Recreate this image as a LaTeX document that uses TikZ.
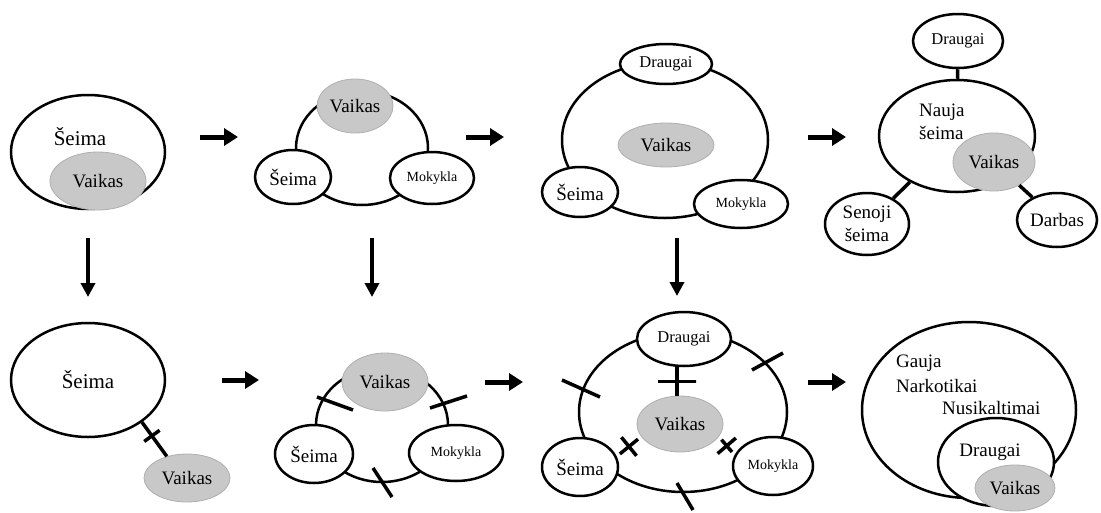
\documentclass[tikz,border=0pt]{standalone}
\usepackage{fontspec}
\setmainfont{Liberation Serif}
\usetikzlibrary{arrows.meta,shapes.geometric}
\definecolor{kidfill}{RGB}{200,200,200}
\definecolor{kidedge}{RGB}{175,175,175}
\begin{document}
\begin{tikzpicture}[x=1pt,y=-1pt,
  ell/.style={ellipse, draw, line width=2.5pt, fill=white, inner sep=0pt},
  kid/.style={ellipse, draw=kidedge, line width=0.8pt, fill=kidfill, inner sep=0pt},
  ring/.style={line width=2.5pt},
  bigarrow/.style={line width=5pt, -{Triangle[width=17pt,length=14pt]}},
  downarrow/.style={line width=3.5pt, -{Triangle[width=14pt,length=14pt]}},
  link/.style={line width=3.5pt},
  tick/.style={line width=3.5pt},
  crossmark/.style={sloped, draw, line width=3.5pt, inner sep=0pt, minimum width=0pt, minimum height=#1},
  txt/.style={font=\fontsize{19}{23}\selectfont},
  bigtxt/.style={font=\fontsize{21}{25}\selectfont},
  mid/.style={font=\fontsize{16.5}{20}\selectfont},
  small/.style={font=\fontsize{14}{17}\selectfont},
]
\useasboundingbox (0,0) rectangle (1101,512);

% ---------- Panel 1 ----------
\node[ell, minimum width=154, minimum height=114] (e1) at (88,152) {};
\node[bigtxt] (t1) at (80,137) {Šeima};
\node[kid, txt, minimum width=96, minimum height=58] (v1) at (98,181) {Vaikas};

% ---------- Panel 2 ----------
\draw[ring] (362,148) ellipse [x radius=66, y radius=57];
\node[kid, txt, minimum width=76, minimum height=54] (v2) at (355,106) {Vaikas};
\node[ell, txt, minimum width=76, minimum height=54] (s2) at (293,177) {Šeima};
\node[ell, small, minimum width=84, minimum height=52] (m2) at (432,178) {Mokykla};

% ---------- Panel 3 ----------
\draw[ring] (665,140) ellipse [x radius=103, y radius=78];
\node[ell, mid, minimum width=92, minimum height=40] (d3) at (666,64) {Draugai};
\node[kid, txt, minimum width=96, minimum height=44] (v3) at (666,145) {Vaikas};
\node[ell, txt, minimum width=76, minimum height=50] (s3) at (580,192) {Šeima};
\node[ell, small, minimum width=94, minimum height=48] (m3) at (741,204) {Mokykla};

% ---------- Panel 4 ----------
\node[ell, mid, minimum width=90, minimum height=54] (d4) at (958,41) {Draugai};
\node[ell, minimum width=156, minimum height=112] (n4) at (957,136) {};
\node[txt, align=left, anchor=north west, inner sep=0pt] (t4) at (919,104) {Nauja\\šeima};
\node[kid, txt, minimum width=82, minimum height=58] (v4) at (994,162) {Vaikas};
\node[ell, txt, align=center, minimum width=84, minimum height=62] (s4) at (867,224) {Senoji\\šeima};
\node[ell, txt, minimum width=80, minimum height=54] (b4) at (1057,220) {Darbas};
\draw[link] (d4) -- (n4);
\draw[link] (s4) -- (n4);
\draw[link] (v4) -- (b4);

% ---------- Panel 5 ----------
\node[ell, bigtxt, minimum width=154, minimum height=114] (e5) at (88,380) {Šeima};
\node[kid, txt, minimum width=86, minimum height=48] (v5) at (187,478) {Vaikas};
\draw[link] (e5.-38) -- node[crossmark=19pt, pos=0.4]{} (v5.133);

% ---------- Panel 6 ----------
\draw[ring] (382,425) ellipse [x radius=66, y radius=57];
\node[kid, txt, minimum width=86, minimum height=58] (v6) at (385,382) {Vaikas};
\node[ell, txt, minimum width=78, minimum height=58] (s6) at (314,454) {Šeima};
\node[ell, small, minimum width=94, minimum height=56] (m6) at (456,453) {Mokykla};
\draw[tick] (317,397) -- (353,410);
\draw[tick] (430,408) -- (467,396);
\draw[tick] (373,468) -- (392,497);

% ---------- Panel 7 ----------
\draw[ring] (683,412) ellipse [x radius=104, y radius=80];
\node[ell, mid, minimum width=94, minimum height=54] (d7) at (684,339) {Draugai};
\node[kid, txt, minimum width=86, minimum height=56] (v7) at (680,424) {Vaikas};
\node[ell, txt, minimum width=76, minimum height=58] (s7) at (580,467) {Šeima};
\node[ell, small, minimum width=80, minimum height=58] (m7) at (773,466) {Mokykla};
\draw[link] (v7.north -| 677,0) -- node[crossmark=38pt]{} (d7.south -| 677,0);
\draw[link, shorten <=4pt, shorten >=4pt] (v7.198) -- node[crossmark=24pt]{} (s7.16);
\draw[link, shorten <=4pt, shorten >=4pt] (v7.342) -- node[crossmark=24pt]{} (m7.164);
\draw[tick] (562,380) -- (600,397);
\draw[tick] (752,370) -- (783,353);
\draw[tick] (677,483) -- (693,510);

% ---------- Panel 8 ----------
\node[ell, minimum width=214, minimum height=176] (g8) at (969,410) {};
\node[txt, anchor=west, inner sep=0pt] (ga) at (896,363) {Gauja};
\node[txt, anchor=west, inner sep=0pt] (na) at (896,386) {Narkotikai};
\node[txt, anchor=west, inner sep=0pt] (nu) at (942,408) {Nusikaltimai};
\node[ell, minimum width=116, minimum height=88] (d8) at (996,462) {};
\node[txt] (dt8) at (990,452) {Draugai};
\node[kid, txt, minimum width=80, minimum height=46] (v8) at (1015,488) {Vaikas};

% ---------- Arrows ----------
\coordinate (a1s) at (200,137); \coordinate (a1e) at (238,137);
\coordinate (a2s) at (466,137); \coordinate (a2e) at (504,137);
\coordinate (a3s) at (808,137); \coordinate (a3e) at (846,137);
\coordinate (b1s) at (222,380); \coordinate (b1e) at (259,380);
\coordinate (b2s) at (485,382); \coordinate (b2e) at (523,382);
\coordinate (b3s) at (808,382); \coordinate (b3e) at (846,382);
\draw[bigarrow] (a1s) -- (a1e);
\draw[bigarrow] (a2s) -- (a2e);
\draw[bigarrow] (a3s) -- (a3e);
\draw[bigarrow] (b1s) -- (b1e);
\draw[bigarrow] (b2s) -- (b2e);
\draw[bigarrow] (b3s) -- (b3e);
\coordinate (d1s) at (88,238); \coordinate (d1e) at (88,297);
\coordinate (d2s) at (372,238); \coordinate (d2e) at (372,297);
\coordinate (d3s) at (677,238); \coordinate (d3e) at (677,296);
\draw[downarrow] (d1s) -- (d1e);
\draw[downarrow] (d2s) -- (d2e);
\draw[downarrow] (d3s) -- (d3e);
\end{tikzpicture}
\end{document}
